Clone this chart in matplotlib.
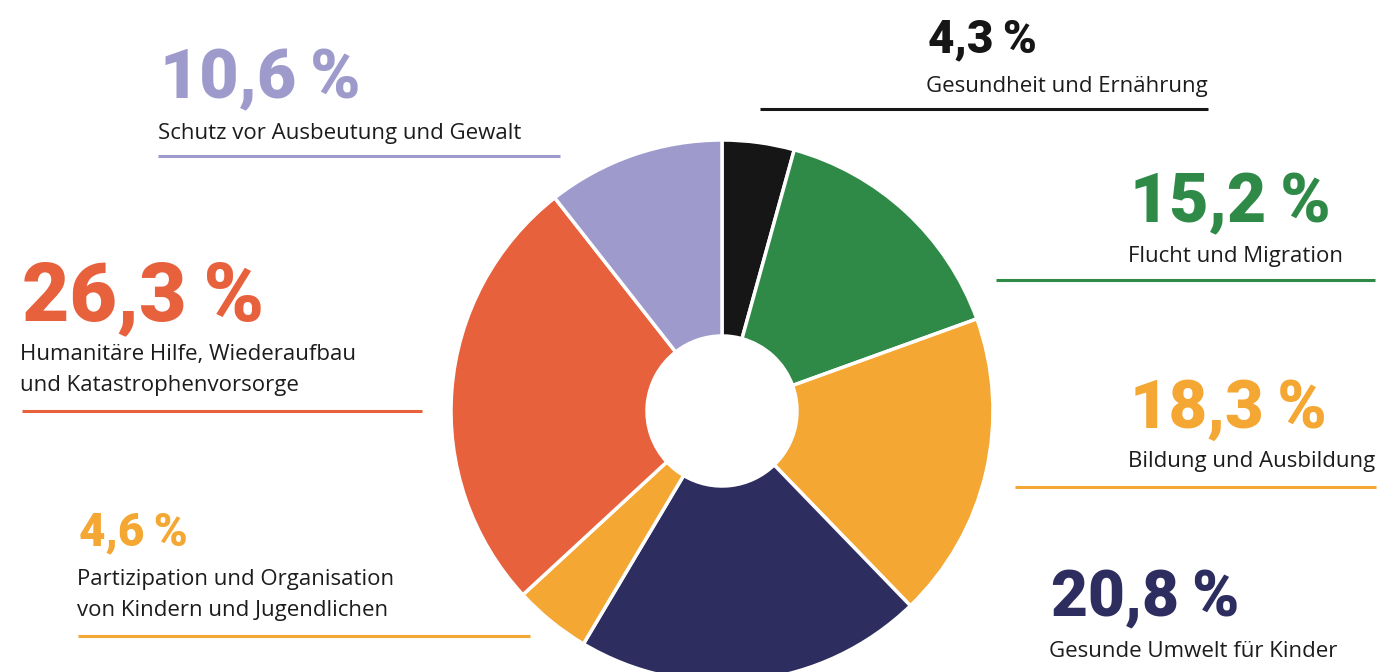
import matplotlib
matplotlib.use("Agg")
from matplotlib import pyplot as plt

# Anteile der Förderbereiche, im Uhrzeigersinn ab 12 Uhr
bereiche = [
    ["Gesundheit und Ernährung"],
    ["Flucht und Migration"],
    ["Bildung und Ausbildung"],
    ["Gesunde Umwelt für Kinder"],
    ["Partizipation und Organisation", "von Kindern und Jugendlichen"],
    ["Humanitäre Hilfe, Wiederaufbau", "und Katastrophenvorsorge"],
    ["Schutz vor Ausbeutung und Gewalt"],
]
anteile = [4.3, 15.2, 18.3, 20.8, 4.6, 26.3, 10.6]
farben = ["#161616", "#2f8a48", "#f4a733", "#2e2d60", "#f4a733", "#e8613d", "#9e9bcc"]

# Beschriftung: (x, Grundlinie Zahl, Schriftgröße Zahl, Grundlinie Text, Linie y, Linie x0, Linie x1)
layout = [
    (928, 52, 33, 92, 109, 760, 1208),
    (1130, 222, 49, 262, 280, 996, 1375),
    (1130, 428, 48, 467, 487, 1015, 1376),
    (1051, 616, 46, 657, None, None, None),
    (79, 545, 33, 585, 636, 78, 530),
    (22, 320, 59, 360, 411, 22, 422),
    (160, 98, 49, 139, 156, 158, 560),
]

fig = plt.figure(figsize=(13.8, 6.72), dpi=100)
ax = fig.add_axes([0, 0, 1, 1])
ax.axis("off")

ax.pie(anteile, colors=farben, radius=271, center=(722, 411),
       startangle=-90, counterclock=True,
       wedgeprops=dict(width=196, edgecolor="white", linewidth=2.5))
ax.set_xlim(0, 1380)
ax.set_ylim(672, 0)

for zeilen, wert, farbe, (x, yz, fs, yt, yl, lx0, lx1) in zip(bereiche, anteile, farben, layout):
    zahl = f"{wert:.1f}".replace(".", ",") + "\u2009%"
    ax.text(x, yz, zahl, color=farbe, fontsize=fs, fontweight="black",
            family=["Roboto", "DejaVu Sans"], ha="left", va="baseline")
    for i, zeile in enumerate(zeilen):
        ax.text(x - 2, yt + i * 31, zeile, color="#1c1c1c", fontsize=16,
                family="Open Sans", ha="left", va="baseline")
    if yl is not None:
        ax.plot([lx0, lx1], [yl, yl], color=farbe, lw=2.2, solid_capstyle="butt")

fig.savefig("out.png", dpi=100)
